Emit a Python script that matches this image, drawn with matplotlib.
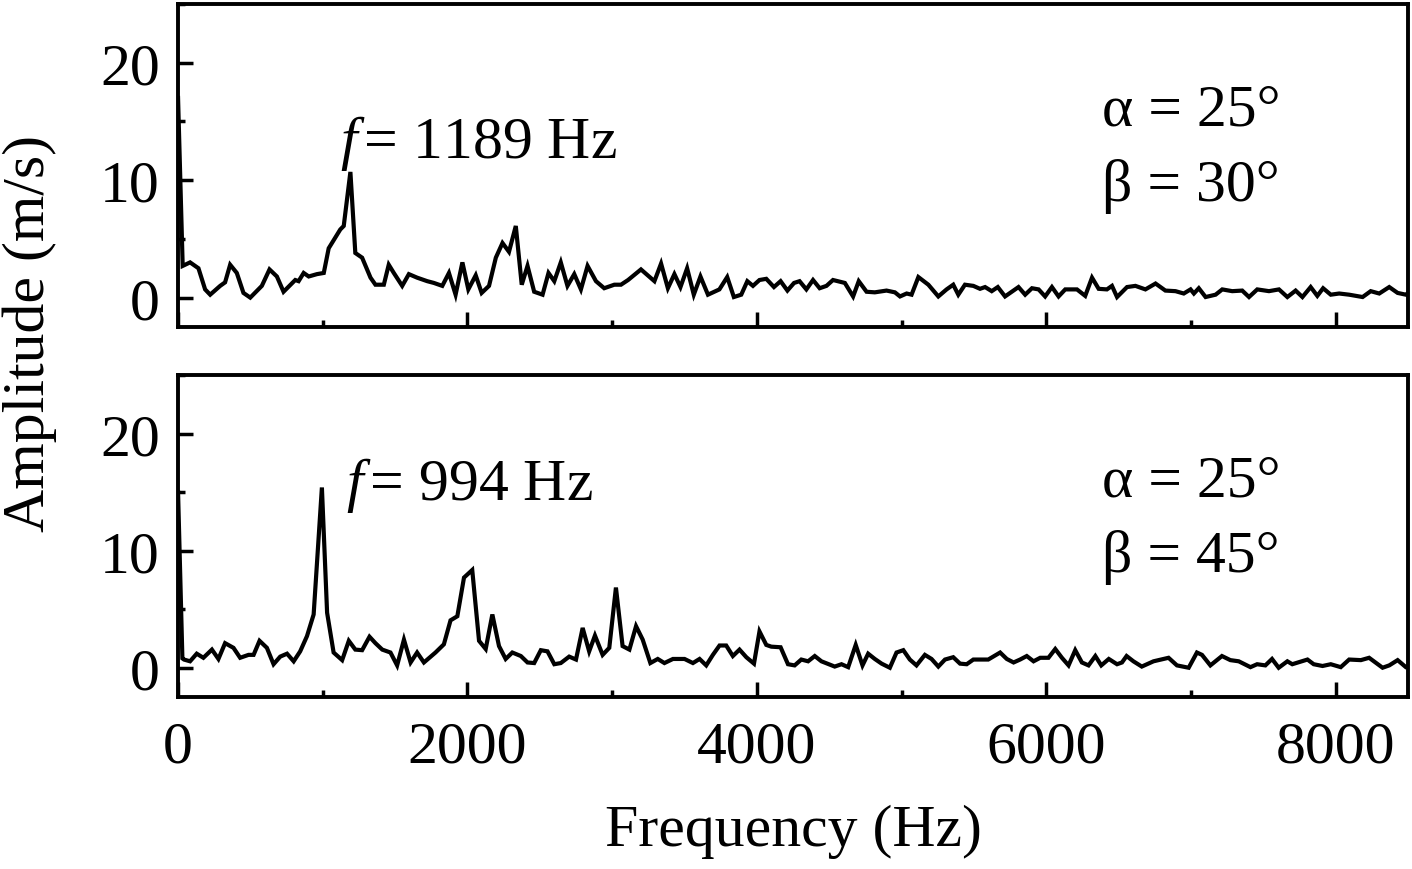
import matplotlib
matplotlib.use('Agg')
import matplotlib.pyplot as plt
from matplotlib.ticker import MultipleLocator

# --- fonts (Times-like serif) ---
plt.rcParams['font.family'] = ['Liberation Serif', 'DejaVu Serif']
plt.rcParams['mathtext.fontset'] = 'custom'
plt.rcParams['mathtext.rm'] = 'Liberation Serif'
plt.rcParams['mathtext.it'] = 'Liberation Serif:italic'

FS = 43

# ===== data: top panel (alpha = 25, beta = 30) =====
freq_top = [0, 32, 83, 141, 187, 222, 291, 325, 360, 406, 452, 499, 579, 632, 683, 729,
            810, 833, 868, 903, 960, 1007, 1041, 1121, 1145, 1191, 1225, 1272, 1330, 1364,
            1422, 1456, 1491, 1549, 1595, 1652, 1722, 1768, 1826, 1872, 1918, 1965, 2006,
            2057, 2098, 2149, 2196, 2242, 2287, 2334, 2375, 2415, 2461, 2519, 2560, 2600,
            2645, 2691, 2738, 2784, 2830, 2888, 2945, 3015, 3061, 3110, 3199, 3292, 3338,
            3385, 3430, 3472, 3518, 3564, 3610, 3662, 3741, 3795, 3841, 3892, 3934, 3973,
            4018, 4065, 4118, 4164, 4211, 4257, 4295, 4342, 4388, 4434, 4481, 4526, 4608,
            4665, 4704, 4758, 4815, 4896, 4954, 4989, 5035, 5069, 5116, 5185, 5254, 5311,
            5357, 5392, 5438, 5496, 5542, 5577, 5623, 5665, 5715, 5808, 5854, 5901, 5947,
            5992, 6039, 6085, 6131, 6212, 6269, 6316, 6362, 6419, 6454, 6489, 6558, 6616,
            6685, 6755, 6823, 6893, 6950, 6997, 7020, 7054, 7101, 7170, 7216, 7285, 7354,
            7401, 7458, 7539, 7608, 7666, 7723, 7770, 7827, 7873, 7913, 7966, 8024, 8093,
            8186, 8242, 8301, 8370, 8428, 8485, 8500]
amp_top = [17.0, 2.7, 3.0, 2.5, 0.7, 0.25, 1.0, 1.3, 2.8, 2.1, 0.4, 0.0, 1.0, 2.4, 1.8, 0.5,
           1.5, 1.4, 2.1, 1.8, 2.0, 2.1, 4.2, 5.8, 6.1, 10.7, 3.8, 3.4, 1.7, 1.1,
           1.1, 2.8, 2.1, 1.0, 2.0, 1.7, 1.4, 1.25, 1.0, 2.1, 0.25, 3.0, 0.7,
           1.9, 0.4, 1.0, 3.4, 4.65, 3.9, 6.1, 1.1, 2.7, 0.5, 0.25, 2.1, 1.4,
           3.0, 1.0, 2.0, 0.7, 2.7, 1.4, 0.8, 1.1, 1.1, 1.5, 2.4, 1.4, 2.9,
           0.8, 2.0, 0.9, 2.5, 0.25, 1.8, 0.25, 0.7, 1.75, 0.05, 0.25, 1.4, 1.0,
           1.5, 1.6, 0.9, 1.4, 0.6, 1.25, 1.4, 0.7, 1.5, 0.8, 1.0, 1.5, 1.25,
           0.1, 1.4, 0.5, 0.45, 0.6, 0.45, 0.1, 0.35, 0.25, 1.75, 1.1, 0.1, 0.7,
           1.1, 0.25, 1.1, 1.0, 0.75, 0.9, 0.55, 0.9, 0.1, 0.9, 0.25, 0.8, 0.7,
           0.1, 0.9, 0.1, 0.7, 0.7, 0.15, 1.7, 0.75, 0.7, 1.0, 0.05, 0.9, 1.0,
           0.7, 1.2, 0.6, 0.55, 0.35, 0.7, 0.35, 0.8, 0.05, 0.25, 0.7, 0.55, 0.6,
           0.05, 0.7, 0.55, 0.7, 0.05, 0.6, 0.05, 0.9, 0.15, 0.8, 0.25, 0.35, 0.25,
           0.05, 0.55, 0.35, 0.9, 0.4, 0.25, 0.4]

# ===== data: bottom panel (alpha = 25, beta = 45) =====
freq_bot = [0, 30, 41, 83, 129, 175, 234, 279, 325, 383, 429, 487, 522, 563, 614, 660,
            706, 753, 799, 844, 891, 937, 994, 1030, 1075, 1134, 1180, 1225, 1272, 1323,
            1364, 1411, 1468, 1514, 1561, 1607, 1652, 1699, 1779, 1837, 1883, 1930, 1976,
            2033, 2080, 2126, 2172, 2218, 2264, 2310, 2369, 2415, 2461, 2507, 2553, 2600,
            2645, 2703, 2750, 2796, 2841, 2881, 2934, 2980, 3026, 3072, 3119, 3165, 3211,
            3264, 3315, 3361, 3420, 3500, 3558, 3604, 3650, 3696, 3742, 3788, 3834, 3880,
            3927, 3980, 4018, 4065, 4100, 4164, 4215, 4261, 4307, 4354, 4400, 4446, 4538,
            4585, 4631, 4683, 4730, 4769, 4815, 4862, 4919, 4965, 5012, 5057, 5103, 5161,
            5207, 5254, 5300, 5357, 5404, 5450, 5496, 5599, 5681, 5727, 5774, 5819, 5865,
            5912, 5958, 6015, 6062, 6108, 6154, 6200, 6246, 6292, 6339, 6380, 6432, 6489,
            6523, 6555, 6602, 6660, 6741, 6845, 6903, 6984, 7041, 7076, 7134, 7214, 7272,
            7330, 7411, 7457, 7514, 7560, 7606, 7666, 7700, 7805, 7848, 7909, 7966, 8035,
            8093, 8174, 8231, 8324, 8370, 8428, 8485, 8500]
amp_bot = [15.0, 0.8, 0.7, 0.55, 1.2, 0.85, 1.55, 0.75, 2.1, 1.7, 0.85, 1.1, 1.1, 2.3, 1.7, 0.3,
           0.95, 1.2, 0.55, 1.4, 2.7, 4.55, 15.4, 4.7, 1.3, 0.65, 2.3, 1.55, 1.5, 2.65,
           2.1, 1.55, 1.3, 0.2, 2.4, 0.45, 1.3, 0.45, 1.3, 2.0, 4.05, 4.4, 7.7,
           8.35, 2.3, 1.6, 4.55, 1.85, 0.75, 1.3, 1.0, 0.45, 0.4, 1.5, 1.4, 0.3,
           0.4, 0.95, 0.7, 3.4, 1.4, 2.75, 1.1, 1.7, 6.85, 1.85, 1.55, 3.55, 2.4,
           0.4, 0.75, 0.4, 0.75, 0.75, 0.4, 0.75, 0.2, 1.1, 1.9, 1.9, 1.0, 1.55,
           0.9, 0.35, 3.1, 1.95, 1.8, 1.75, 0.3, 0.2, 0.7, 0.55, 1.0, 0.55, 0.1,
           0.3, 0.05, 1.95, 0.2, 1.2, 0.75, 0.35, 0.0, 1.3, 1.5, 0.7, 0.2, 1.1,
           0.75, 0.1, 0.7, 0.9, 0.35, 0.3, 0.7, 0.7, 1.3, 0.75, 0.45, 0.7, 1.0,
           0.55, 0.85, 0.85, 1.6, 0.85, 0.2, 1.5, 0.45, 0.2, 1.0, 0.2, 0.75, 0.3,
           0.45, 1.0, 0.55, 0.1, 0.55, 0.85, 0.2, 0.0, 1.3, 1.1, 0.2, 1.0, 0.65,
           0.55, 0.05, 0.3, 0.2, 0.75, 0.0, 0.55, 0.3, 0.7, 0.3, 0.15, 0.3, 0.05,
           0.7, 0.65, 0.85, 0.0, 0.2, 0.65, 0.05, 0.1]

peak_labels = ['1189', '994']
alpha_vals = ['25', '25']
beta_vals = ['30', '45']

fig = plt.figure(figsize=(14.12, 8.70), dpi=100)
ax_top = fig.add_axes([0.1261, 0.623, 0.8711, 0.3713])
ax_bot = fig.add_axes([0.1261, 0.1977, 0.8711, 0.3700])

panels = [(ax_top, freq_top, amp_top), (ax_bot, freq_bot, amp_bot)]

for i, (ax, fx, ay) in enumerate(panels):
    ax.plot(fx, ay, color='black', lw=3.0, solid_joinstyle='miter')
    ax.set_xlim(0, 8500)
    ax.set_ylim(-2.5, 25)

    ax.xaxis.set_major_locator(MultipleLocator(2000))
    ax.xaxis.set_minor_locator(MultipleLocator(1000))
    ax.yaxis.set_major_locator(MultipleLocator(10))
    ax.yaxis.set_minor_locator(MultipleLocator(5))

    ax.tick_params(which='both', direction='in', top=False, right=False,
                   width=2.5, labelsize=FS)
    ax.tick_params(which='major', length=11)
    ax.tick_params(which='minor', length=5)
    ax.tick_params(axis='y', pad=13)
    ax.tick_params(axis='x', pad=17)
    for sp in ax.spines.values():
        sp.set_linewidth(2.8)

    # label of the dominant peak and the angle settings
    ax.text([2075, 2015][i], [12.0, 14.4][i], r'$f\,$= ' + peak_labels[i] + ' Hz',
            fontsize=FS, ha='center', va='baseline')
    ax.text(6385, 14.7, '\u03b1 = ' + alpha_vals[i] + '\u00b0',
            fontsize=FS, ha='left', va='baseline')
    ax.text(6385, 8.3, '\u03b2 = ' + beta_vals[i] + '\u00b0',
            fontsize=FS, ha='left', va='baseline')

ax_top.tick_params(axis='x', labelbottom=False)

fig.text(0.5616, 0.044, 'Frequency (Hz)', fontsize=FS, ha='center', va='center')
fig.text(0.021, 0.617, 'Amplitude (m/s)', fontsize=FS, ha='center', va='center',
         rotation=90)

fig.savefig('out.png', dpi=100)
